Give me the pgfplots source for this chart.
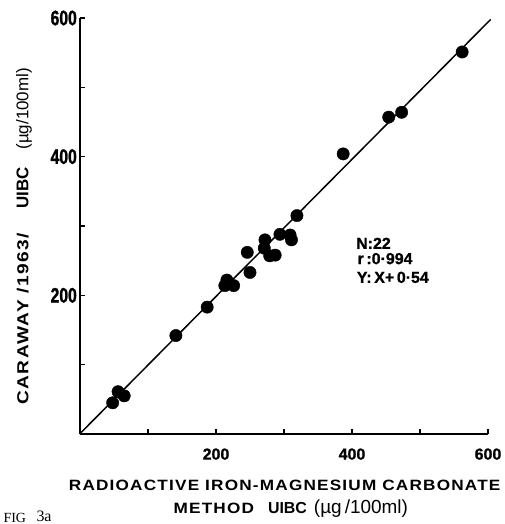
\documentclass[border=0pt]{standalone}
\usepackage{fontspec}
\setmainfont{Liberation Sans}
\newfontfamily\widefont{Liberation Sans}[FakeStretch=1.15,LetterSpace=8]
\newfontfamily\wideyfont{Liberation Sans}[FakeStretch=1.2,LetterSpace=9]
\newfontfamily\narrowfont{Liberation Sans Bold}[FakeStretch=0.75,FakeBold=1.2]
\newfontfamily\heavyfont{Liberation Sans Bold}[FakeBold=1]
\newfontfamily\figfont{Liberation Serif}
\usepackage{pgfplots}
\pgfplotsset{compat=1.18}

\begin{document}
\begin{tikzpicture}
\path[use as bounding box] (-80bp,-90bp) rectangle (425bp,434bp);
\begin{axis}[
  scale only axis,
  width=408bp, height=416bp,
  xmin=0, xmax=600, ymin=0, ymax=600,
  axis x line=bottom, axis y line=left,
  axis line style={-, line width=2.2pt},
  xtick={100,200,...,600}, ytick={100,200,...,600},
  xticklabels={,200,,400,,600}, yticklabels={,200,,400,,600},
  tick align=inside, major tick length=5pt,
  tick style={line width=1.6pt, black},
  xticklabel style={font=\heavyfont\fontsize{16}{18}\selectfont, yshift=-11pt},
  yticklabel style={font=\narrowfont\fontsize{21}{23}\selectfont, inner sep=3pt},
  clip=false,
]
% regression line Y = X + 0.54
\addplot[black, line width=1.5pt, no marks] coordinates {(0,0.54) (604,598)};
% measured samples
\addplot[only marks, mark=*, mark size=6.2pt, black] coordinates {
  (48,45) (56,61) (65,55)
  (141,142) (187,183)
  (216,222) (213,214) (226,214)
  (246,262) (250,233)
  (272,280) (271,268) (279,257) (287,258) (294,288) (309,287) (311,280)
  (319,315) (387,404)
  (454,457) (473,464) (562,551)
};
\node[anchor=base west, font=\heavyfont\fontsize{16}{18}\selectfont] at (axis cs:401,267) {N:22};
\node[anchor=base west, font=\heavyfont\fontsize{16}{18}\selectfont] at (axis cs:403,245) {r\,:0·994};
\node[anchor=base west, font=\heavyfont\fontsize{16}{18}\selectfont] at (axis cs:402,218) {Y:\,X+\,0·54};
% axis titles
\node[anchor=base] at ([yshift=-56bp]axis cs:301,0)
  {\widefont\fontsize{15}{17}\selectfont\bfseries RADIOACTIVE IRON-MAGNESIUM CARBONATE};
\node[anchor=base] at ([yshift=-79bp]axis cs:310,0)
  {{\widefont\fontsize{15}{17}\selectfont\bfseries METHOD}\hspace{14bp}{\fontsize{16}{18}\selectfont\bfseries UIBC}\hspace{7bp}{\fontsize{19}{21}\selectfont (µg\,/100ml)}};
\node[rotate=90, anchor=center] at ([xshift=-56bp]axis cs:0,285)
  {{\wideyfont\fontsize{16}{18}\selectfont\bfseries CARAWAY /1963/}\hspace{24bp}{\fontsize{17}{19}\selectfont\bfseries UIBC}\hspace{18bp}{\fontsize{17}{19}\selectfont (µg/100ml)}};
\end{axis}
\node[anchor=base west, font=\figfont\fontsize{14}{16}\selectfont] at (-80bp,-88bp) {FIG};
\node[anchor=base west, font=\figfont\fontsize{16}{18}\selectfont] at (-47bp,-87bp) {3a};
\end{tikzpicture}
\end{document}
